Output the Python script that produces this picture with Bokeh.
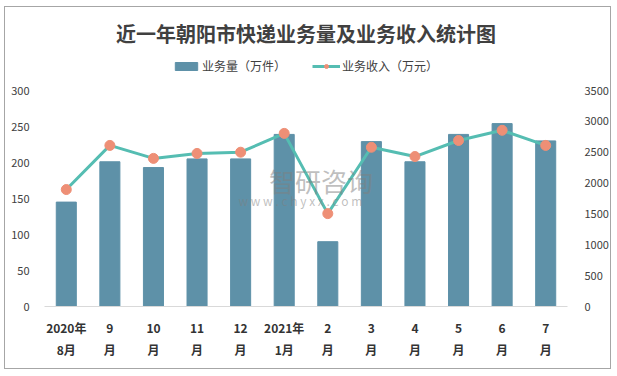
from bokeh.plotting import figure
from bokeh.models import (FactorRange, Range1d, LinearAxis, FixedTicker, Legend,
                          LegendItem, Label)
from bokeh.embed import file_html
from bokeh.resources import INLINE

# ---- data ----
months = ["2020年\n8月", "9\n月", "10\n月", "11\n月", "12\n月", "2021年\n1月",
          "2\n月", "3\n月", "4\n月", "5\n月", "6\n月", "7\n月"]
volume = [145, 201, 193, 205, 205, 239, 90, 229, 201, 239, 254, 230]          # 万件
revenue = [1895, 2610, 2400, 2480, 2500, 2805, 1505, 2580, 2430, 2690, 2855, 2610]  # 万元
left_ticks = [0, 50, 100, 150, 200, 250, 300]
right_ticks = [0, 500, 1000, 1500, 2000, 2500, 3000, 3500]
title_text = "近一年朝阳市快递业务量及业务收入统计图"
bar_name = "业务量（万件）"
line_name = "业务收入（万元）"

FONT = "Noto Sans CJK SC"
TXT = "#404040"

# frame extends above the 300 tick to host the legend
LEFT_TOP = 300 * 256 / 216
RIGHT_TOP = LEFT_TOP * 3500 / 300

p = figure(width=607, height=363, margin=(6, 4, 5, 4),
           x_range=FactorRange(factors=months, range_padding=0),
           y_range=Range1d(0, LEFT_TOP),
           output_backend="svg", toolbar_location=None,
           min_border_left=39, min_border_right=45,
           min_border_top=43, min_border_bottom=64)
p.styles = {"border": "1px solid #a6a6a6"}
p.extra_y_ranges = {"rev": Range1d(0, RIGHT_TOP)}
p.background_fill_color = "white"
p.border_fill_color = "white"
p.outline_line_color = None
p.xgrid.grid_line_color = None
p.ygrid.grid_line_color = None

p.title.text = title_text
p.title.align = "center"
p.title.text_font = FONT
p.title.text_font_size = "20px"
p.title.text_font_style = "bold"
p.title.text_color = TXT
p.title.standoff = 6

bars = p.vbar(x=months, top=volume, width=0.46, color="#5E91A8")
line = p.line(x=months, y=revenue, y_range_name="rev", line_color="#55BDB2", line_width=3)
dots = p.scatter(x=months, y=revenue, y_range_name="rev", size=10,
                 fill_color="#EE8F76", line_color="#EE8F76")

# axes
yl = p.yaxis[0]
yl.ticker = FixedTicker(ticks=left_ticks)
rax = LinearAxis(y_range_name="rev", ticker=FixedTicker(ticks=right_ticks))
p.add_layout(rax, "right")
for ax in (yl, rax):
    ax.axis_line_color = None
    ax.major_tick_line_color = None
    ax.minor_tick_line_color = None
    ax.major_label_text_font = FONT
    ax.major_label_text_font_size = "11px"
    ax.major_label_text_color = TXT
yl.major_label_standoff = 9
rax.major_label_standoff = 11

xa = p.xaxis[0]
xa.axis_line_color = "#d9d9d9"
xa.major_tick_line_color = None
xa.minor_tick_line_color = None
xa.major_label_text_font = FONT
xa.major_label_text_font_size = "12px"
xa.major_label_text_font_style = "bold"
xa.major_label_text_color = "#333333"
xa.major_label_text_line_height = 1.35
xa.major_label_standoff = 6

legend = Legend(items=[LegendItem(label=bar_name, renderers=[bars]),
                       LegendItem(label=line_name, renderers=[line, dots])],
                orientation="horizontal", location=(128, 232),
                label_text_font=FONT, label_text_font_size="12px",
                label_text_color=TXT, glyph_width=28, glyph_height=10,
                label_standoff=2, spacing=26, padding=0, margin=0,
                border_line_color=None, background_fill_alpha=0)
p.add_layout(legend, "center")

# watermark
p.add_layout(Label(x=5.15, y=175, text="智研咨询", text_font=FONT, text_font_size="26px",
                   text_color="#7f7f7f", text_alpha=0.5, text_baseline="middle"))
p.add_layout(Label(x=4.45, y=147, text="w w w . c h y x x . c o m", text_font=FONT,
                   text_font_size="12px", text_color="#7f7f7f", text_alpha=0.5,
                   text_baseline="middle"))

open("out.html", "w").write(file_html(p, INLINE))
